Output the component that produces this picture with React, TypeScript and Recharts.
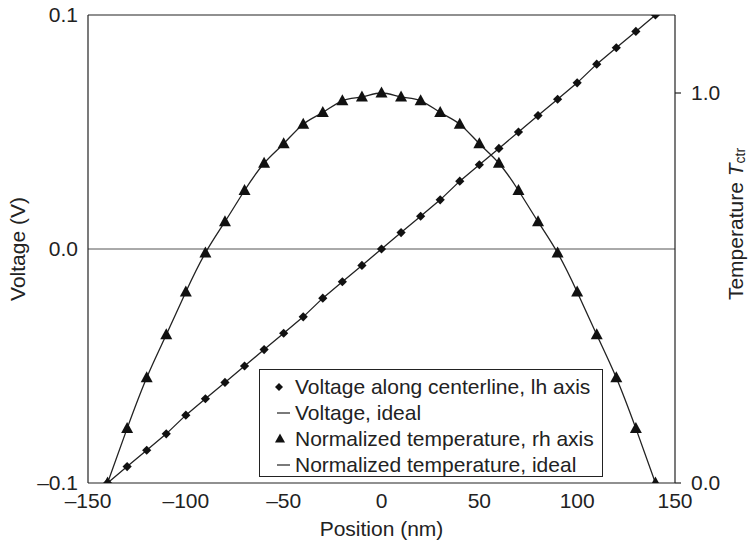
import React from 'react';
import { LineChart, Line, XAxis, YAxis, ReferenceLine, Legend } from 'recharts';

const FONT = '"Liberation Sans", Arial, Helvetica, sans-serif';
const INK = '#222';

// position along the device (nm)
const positions = [
    -140, -130, -120, -110, -100, -90, -80, -70, -60, -50, -40, -30, -20, -10, 0,
    10, 20, 30, 40, 50, 60, 70, 80, 90, 100, 110, 120, 130, 140,
];
// voltage along centerline (V), left axis
const voltage = [
    -0.100, -0.093, -0.086, -0.079, -0.071, -0.064, -0.057, -0.050, -0.043, -0.036, -0.029, -0.021, -0.014, -0.007, 0.000,
    0.007, 0.014, 0.021, 0.029, 0.036, 0.043, 0.050, 0.057, 0.064, 0.071, 0.079, 0.086, 0.093, 0.100,
];
// normalized temperature, right axis
const temperature = [
    0.00, 0.14, 0.27, 0.38, 0.49, 0.59, 0.67, 0.75, 0.82, 0.87, 0.92, 0.95, 0.98, 0.99, 1.00,
    0.99, 0.98, 0.95, 0.92, 0.87, 0.82, 0.75, 0.67, 0.59, 0.49, 0.38, 0.27, 0.14, 0.00,
];

const xTicks = [-150, -100, -50, 0, 50, 100, 150];
const voltageTicks = [-0.1, 0, 0.1];
const tempTicks = [0, 1.0];

const legendItems = [
    { symbol: 'diamond', label: 'Voltage along centerline, lh axis' },
    { symbol: 'line', label: 'Voltage, ideal' },
    { symbol: 'triangle', label: 'Normalized temperature, rh axis' },
    { symbol: 'line', label: 'Normalized temperature, ideal' },
];

const data = positions.map((x, i) => ({ x, v: voltage[i], t: temperature[i] }));

const dash = (v: number, digits: number) => (v < 0 ? '\u2013' : '') + Math.abs(v).toFixed(digits);

const Diamond = (props: any) => {
    const { cx, cy, index } = props;
    if (cx == null || cy == null) return <g key={`d-${index}`} />;
    const r = 4.6;
    return <path key={`d-${index}`} d={`M${cx},${cy - r}L${cx + r},${cy}L${cx},${cy + r}L${cx - r},${cy}Z`} fill="#111" />;
};

const Triangle = (props: any) => {
    const { cx, cy, index } = props;
    if (cx == null || cy == null) return <g key={`t-${index}`} />;
    return <path key={`t-${index}`} d={`M${cx},${cy - 6.5}L${cx + 6},${cy + 4.5}L${cx - 6},${cy + 4.5}Z`} fill="#111" />;
};

const LegendSymbol = ({ kind }: { kind: string }) => (
    <svg width={21} height={14} style={{ flex: '0 0 21px' }}>
        {kind === 'diamond' && <path d="M5,3L9,7L5,11L1,7Z" fill="#111" />}
        {kind === 'triangle' && <path d="M6,1.5L11,10.5L1,10.5Z" fill="#111" />}
        {kind === 'line' && <line x1={3} y1={7} x2={16} y2={7} stroke={INK} strokeWidth={1.2} />}
    </svg>
);

const LegendBox = () => (
    <div style={{ border: `1px solid ${INK}`, background: '#fff', padding: '4px 0 4px 14px', boxSizing: 'border-box', width: 344, height: 108 }}>
        {legendItems.map((item) => (
            <div key={item.label} style={{ display: 'flex', alignItems: 'center', height: 26, fontSize: 21, color: INK, whiteSpace: 'nowrap' }}>
                <LegendSymbol kind={item.symbol} />
                <span>{item.label}</span>
            </div>
        ))}
    </div>
);

const TempTitle = (props: any) => {
    const vb = props.viewBox || { x: 675, y: 15, width: 75, height: 468 };
    const cx = vb.x + 60;
    const cy = vb.y + vb.height / 2 - 25;
    return (
        <text x={cx} y={cy} transform={`rotate(-90, ${cx}, ${cy})`} textAnchor="middle" dominantBaseline="central" fontSize={21} fill={INK}>
            Temperature <tspan fontStyle="italic">T</tspan>
            <tspan fontSize={14} dy={5}>ctr</tspan>
        </text>
    );
};

export default function App() {
    const axisLine = { stroke: INK, strokeWidth: 1.2 };
    const tick = { fontSize: 21, fill: INK };
    return (
        <div style={{ position: 'absolute', left: 0, top: 0, width: 750, height: 545, background: '#fff', fontFamily: FONT }}>
            <LineChart width={750} height={545} data={data} margin={{ top: 15, right: 0, bottom: 0, left: 0 }}>
                <XAxis
                    type="number" dataKey="x" domain={[-150, 150]} ticks={xTicks} allowDataOverflow
                    tickFormatter={(v: number) => dash(v, 0)} tickLine={false} tickSize={6} tickMargin={4}
                    height={62} axisLine={axisLine} tick={tick}
                    label={{ value: 'Position (nm)', position: 'insideBottom', offset: 9, fontSize: 21, fill: INK }}
                />
                <YAxis
                    yAxisId="v" orientation="left" width={88} domain={[-0.1, 0.1]} ticks={voltageTicks} allowDataOverflow
                    tickFormatter={(v: number) => dash(v, 1)} tickLine={false} tickSize={6} tickMargin={4}
                    axisLine={axisLine} tick={tick}
                    label={{ value: 'Voltage (V)', angle: -90, position: 'insideLeft', offset: 18, fontSize: 21, fill: INK, style: { textAnchor: 'middle' } }}
                />
                <YAxis
                    yAxisId="t" orientation="right" width={75} domain={[0, 1.2]} ticks={tempTicks} allowDataOverflow
                    tickFormatter={(v: number) => v.toFixed(1)} tickSize={6} tickMargin={10}
                    tickLine={{ stroke: INK, strokeWidth: 1.2 }} axisLine={axisLine} tick={tick}
                    label={{ content: TempTitle }}
                />
                <ReferenceLine yAxisId="v" y={0} stroke="#555" strokeWidth={1} />
                <ReferenceLine yAxisId="v" y={0.1} stroke={INK} strokeWidth={1.2} />
                <Line yAxisId="v" dataKey="v" name="Voltage, ideal" type="linear" stroke={INK} strokeWidth={1.3} dot={false} activeDot={false} isAnimationActive={false} />
                <Line yAxisId="t" dataKey="t" name="Normalized temperature, ideal" type="natural" stroke={INK} strokeWidth={1.3} dot={false} activeDot={false} isAnimationActive={false} />
                <Line yAxisId="v" dataKey="v" name="Voltage along centerline, lh axis" stroke="none" dot={Diamond} activeDot={false} isAnimationActive={false} />
                <Line yAxisId="t" dataKey="t" name="Normalized temperature, rh axis" stroke="none" dot={Triangle} activeDot={false} isAnimationActive={false} />
                <Legend
                    layout="horizontal" verticalAlign="middle" align="center"
                    content={() => <LegendBox />}
                    wrapperStyle={{ left: 259, top: 369, width: 344, height: 108 }}
                />
            </LineChart>
        </div>
    );
}
